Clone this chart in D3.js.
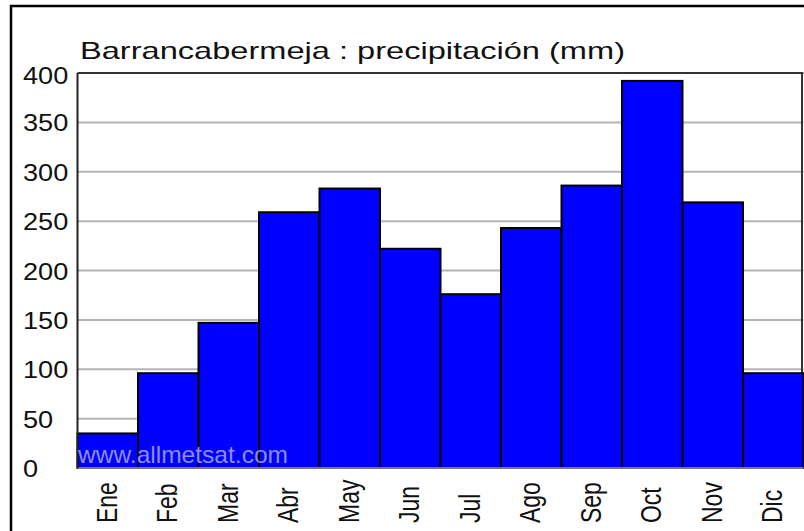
<!DOCTYPE html>
<html>
<head>
<meta charset="utf-8">
<script src="https://cdn.jsdelivr.net/npm/d3@7"></script>
<style>
  html, body { margin: 0; padding: 0; background: #fff; overflow: hidden; }
  svg { display: block; font-family: "Liberation Sans", Arial, sans-serif; }
</style>
</head>
<body>
<div id="chart"></div>
<script>
// monthly precipitation (mm)
const months = ["Ene", "Feb", "Mar", "Abr", "May", "Jun", "Jul", "Ago", "Sep", "Oct", "Nov", "Dic"];
const precip = [35, 96, 147, 259, 283, 222, 176, 243, 286, 392, 269, 96];
const yTicks = [0, 50, 100, 150, 200, 250, 300, 350, 400];
const title = "Barrancabermeja : precipitación (mm)";

const width = 804, height = 531;
const plot = { left: 77.5, right: 803.5, top: 73, bottom: 468 };

const svg = d3.select("#chart").append("svg")
    .attr("width", width)
    .attr("height", height);

// outer frame
svg.append("rect")
    .attr("x", 11).attr("y", 6)
    .attr("width", 820).attr("height", 560)
    .attr("fill", "none")
    .attr("stroke", "#000")
    .attr("stroke-width", 2.5);

const x = d3.scaleBand().domain(months).range([plot.left, plot.right]).padding(0);
const y = d3.scaleLinear().domain([0, 400]).range([plot.bottom, plot.top]);

// gridlines
svg.append("g")
    .selectAll("line")
    .data(yTicks.filter(d => d > 0 && d < 400))
    .enter().append("line")
    .attr("x1", plot.left).attr("x2", plot.right)
    .attr("y1", d => y(d)).attr("y2", d => y(d))
    .attr("stroke", "#b4b4b4")
    .attr("stroke-width", 2);

// plot frame (top / right)
svg.append("line")
    .attr("x1", plot.left).attr("x2", plot.right)
    .attr("y1", y(400)).attr("y2", y(400))
    .attr("stroke", "#333").attr("stroke-width", 2);
svg.append("line")
    .attr("x1", 802).attr("x2", 802)
    .attr("y1", y(400)).attr("y2", y(0))
    .attr("stroke", "#333").attr("stroke-width", 2);

// bars
svg.append("g")
    .selectAll("rect")
    .data(months)
    .enter().append("rect")
    .attr("x", d => x(d))
    .attr("y", (d, i) => y(precip[i]))
    .attr("width", x.bandwidth())
    .attr("height", (d, i) => y(0) - y(precip[i]))
    .attr("fill", "#0000ff")
    .attr("stroke", "#000")
    .attr("stroke-width", 2);

// axes lines
svg.append("line")
    .attr("x1", plot.left).attr("x2", plot.right)
    .attr("y1", y(0)).attr("y2", y(0))
    .attr("stroke", "#777").attr("stroke-width", 2);
svg.append("line")
    .attr("x1", plot.left).attr("x2", plot.left)
    .attr("y1", y(400)).attr("y2", y(0))
    .attr("stroke", "#222").attr("stroke-width", 2);

// watermark
svg.append("text")
    .attr("x", 78).attr("y", 463)
    .attr("font-size", 24)
    .attr("fill", "#8c8ce4")
    .attr("textLength", 210)
    .attr("lengthAdjust", "spacingAndGlyphs")
    .text("www.allmetsat.com");

// title
svg.append("text")
    .attr("x", 80).attr("y", 59)
    .attr("font-size", 24)
    .attr("fill", "#111")
    .attr("textLength", 545)
    .attr("lengthAdjust", "spacingAndGlyphs")
    .text(title);

// y tick labels (left aligned)
svg.append("g")
    .selectAll("text")
    .data(yTicks)
    .enter().append("text")
    .attr("transform", d => `translate(23,${y(d) + (d === 400 ? 11 : 9)}) scale(1.18,1)`)
    .attr("font-size", 23)
    .attr("fill", "#111")
    .text(d => d);

// month labels, rotated
svg.append("g")
    .selectAll("text")
    .data(months)
    .enter().append("text")
    .attr("transform", d => `translate(${x(d) + x.bandwidth() / 2 + 9},523) scale(1.27,1) rotate(-90)`)
    .attr("font-size", 23)
    .attr("fill", "#111")
    .attr("text-anchor", "start")
    .text(d => d);
</script>
</body>
</html>
